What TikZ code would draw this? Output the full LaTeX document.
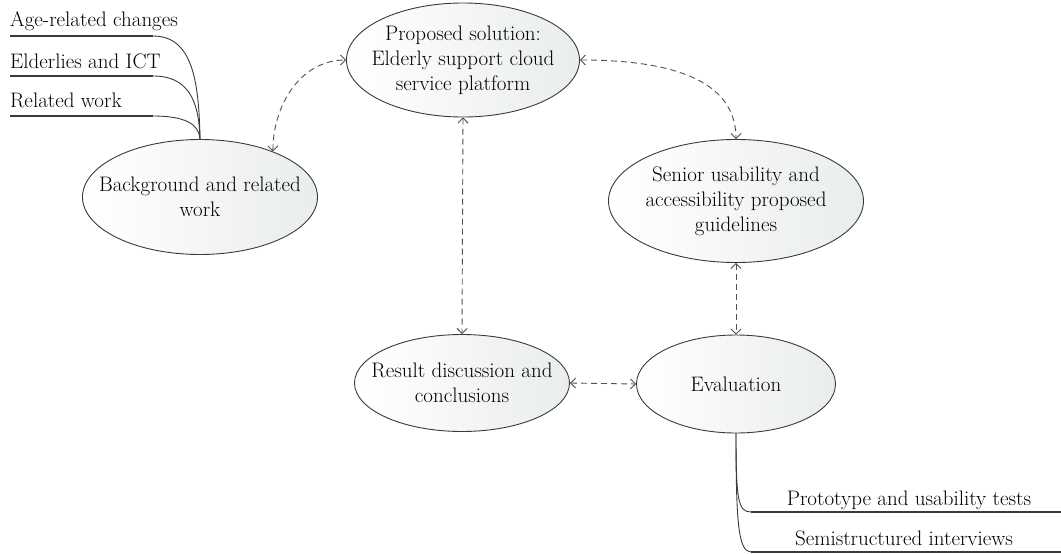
\documentclass[tikz,border=0pt]{standalone}
\usepackage{tikz}
\usetikzlibrary{shapes.geometric,arrows.meta}
\definecolor{edge}{RGB}{58,58,58}
\definecolor{dash}{RGB}{80,80,80}
\definecolor{shade}{RGB}{234,237,237}

\begin{document}
\begin{tikzpicture}[x=1pt,y=-1pt,
		font=\fontsize{21}{25}\selectfont,
		topic/.style={ellipse, draw=edge, line width=0.9pt, left color=white, right color=shade, inner sep=0pt},
		caption/.style={align=center, inner sep=0pt},
		link/.style={draw=dash, line width=0.9pt, dash pattern=on 6pt off 4pt, {Straight Barb[length=5pt,width=10pt]}-{Straight Barb[length=5pt,width=10pt]}},
		twig/.style={draw=edge, line width=0.9pt},
		uline/.style={draw=edge, line width=2.4pt},
		leaf/.style={inner sep=0pt}]
			\useasboundingbox (0,0) rectangle (1061,554);
			% main topics
			\node[topic, minimum width=233pt, minimum height=114pt, label={[caption]center:{Proposed solution:\\Elderly support cloud\\service platform}}] (sol) at (463,60) {};
			\node[topic, minimum width=235pt, minimum height=115pt, label={[caption]center:{Background and related\\work}}] (bg) at (200,197) {};
			\node[topic, minimum width=255pt, minimum height=123pt, label={[caption]center:{Senior usability and\\accessibility proposed\\guidelines}}] (guide) at (736,201) {};
			\node[topic, minimum width=215pt, minimum height=97pt, label={[caption]center:{Result discussion and\\conclusions}}] (res) at (462,383) {};
			\node[topic, minimum width=199pt, minimum height=98pt, label={[caption]center:Evaluation}] (eval) at (736,384) {};
			% links
			\draw[link] (bg.32) to[out=90,in=180] (sol.west);
			\draw[link] (sol.east) to[out=0,in=90] (guide.north);
			\draw[link] (sol.south) -- (res.north);
			\draw[link] (guide.south) -- (eval.north);
			\draw[link] (res.east) -- (eval.west);
			% background branches
			\node[leaf, anchor=base west] (age) at (10,27) {Age-related changes};
			\node[leaf, anchor=base west] (ict) at (10,68) {Elderlies and ICT};
			\node[leaf, anchor=base west] (rel) at (10,107) {Related work};
			\coordinate (age1) at (10,36);  \coordinate (age2) at (153,36);
			\coordinate (ict1) at (10,76);  \coordinate (ict2) at (153,76);
			\coordinate (rel1) at (10,116); \coordinate (rel2) at (153,116);
			\draw[uline] (age1) -- (age2);
			\draw[uline] (ict1) -- (ict2);
			\draw[uline] (rel1) -- (rel2);
			\draw[twig] (age2) .. controls (192,36) and (199,80) .. (bg.north);
			\draw[twig] (ict2) .. controls (188,76) and (199,100) .. (bg.north);
			\draw[twig] (rel2) .. controls (185,116) and (199,124) .. (bg.north);
			% evaluation branches
			\node[leaf, anchor=base] (proto) at (909,505) {Prototype and usability tests};
			\node[leaf, anchor=base] (semi) at (904,545) {Semistructured interviews};
			\coordinate (proto1) at (751,512); \coordinate (proto2) at (1061,512);
			\coordinate (semi1) at (751,552);  \coordinate (semi2) at (1061,552);
			\draw[uline] (proto1) -- (proto2);
			\draw[uline] (semi1) -- (semi2);
			\draw[twig] (eval.south) .. controls (736,500) and (738,512) .. (proto1);
			\draw[twig] (eval.south) .. controls (736,520) and (738,552) .. (semi1);
		\end{tikzpicture}
\end{document}
